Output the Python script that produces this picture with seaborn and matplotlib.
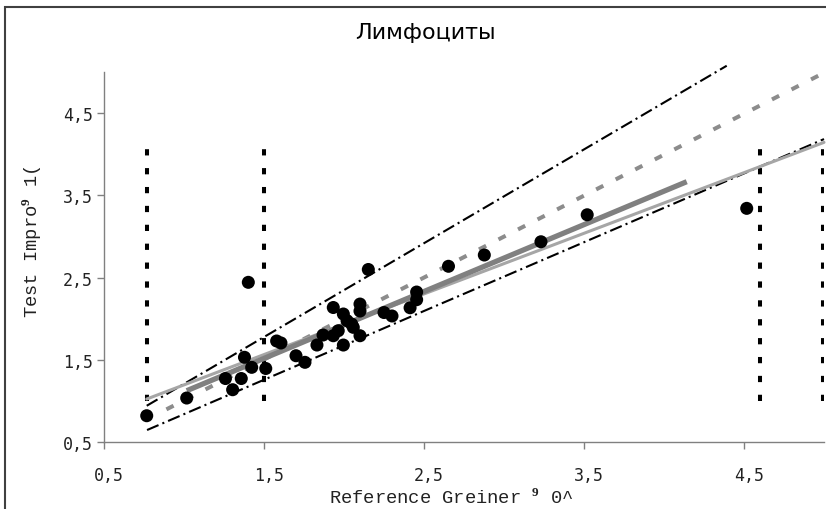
import matplotlib
matplotlib.use("Agg")
import matplotlib.pyplot as plt
import matplotlib.transforms as mtransforms
from matplotlib.patches import Rectangle
import seaborn as sns
import pandas as pd

# ---- data -------------------------------------------------------------
ref_x = [0.767, 1.017, 1.259, 1.304, 1.358, 1.378, 1.423, 1.511, 1.402, 1.579,
         1.606, 1.700, 1.756, 1.831, 1.869, 1.933, 1.933, 1.964, 1.996, 1.996,
         2.019, 2.048, 2.058, 2.100, 2.100, 2.100, 2.152, 2.250, 2.300, 2.413,
         2.454, 2.454, 2.653, 2.877, 3.231, 3.520, 4.517]
test_y = [0.823, 1.038, 1.275, 1.139, 1.275, 1.533, 1.411, 1.397, 2.444, 1.731,
          1.707, 1.552, 1.472, 1.682, 1.804, 2.138, 1.795, 1.856, 1.682, 2.059,
          1.978, 1.937, 1.897, 2.180, 2.095, 1.795, 2.600, 2.077, 2.035, 2.135,
          2.326, 2.233, 2.639, 2.776, 2.937, 3.265, 3.343]

upper_band_x = [0.767, 4.392]
upper_band_y = [0.944, 5.076]
lower_band_x = [0.769, 5.0]
lower_band_y = [0.649, 4.185]
identity_x = [0.89, 5.0]
identity_y = [0.90, 4.99]
fit_thick_x = [1.017, 4.142]
fit_thick_y = [1.127, 3.667]
fit_thin_x = [0.767, 5.0]
fit_thin_y = [1.026, 4.145]

limit_x = [0.77, 1.50, 4.60, 4.995]
limit_y = [1.0, 4.15]

tick_values = [0.5, 1.5, 2.5, 3.5, 4.5]
tick_labels = ["0,5", "1,5", "2,5", "3,5", "4,5"]

title = "Лимфоциты"
xlabel = r"Reference Greiner $^{\mathbf{9}}$ 0^"
ylabel = r"Test Impro$^{\mathbf{9}}$ 1("

# ---- style ------------------------------------------------------------
sns.set_style("white")
plt.rcParams["font.family"] = ["DejaVu Sans"]
plt.rcParams["lines.scale_dashes"] = False
plt.rcParams["mathtext.fontset"] = "custom"
plt.rcParams["mathtext.rm"] = "Liberation Mono"
plt.rcParams["mathtext.bf"] = "Liberation Serif:bold"

W, H = 826, 510
fig = plt.figure(figsize=(W / 100, H / 100), dpi=100)
ax_left, ax_right, ax_bottom, ax_top = 104, 824, 443.3, 73.0
ax = fig.add_axes([ax_left / W, 1 - ax_bottom / H,
                   (ax_right - ax_left) / W, (ax_bottom - ax_top) / H])

# vertical limit lines
for xv in limit_x:
    sns.lineplot(x=[xv, xv], y=limit_y, estimator=None, sort=False, ax=ax,
                 color="black", lw=2.9, linestyle=(0, (4.5, 9.1)),
                 solid_capstyle="butt", dash_capstyle="butt")

# band lines (dash-dot)
dashdot = (0, (9, 3, 1.5, 3))
sns.lineplot(x=upper_band_x, y=upper_band_y, estimator=None, ax=ax, color="black",
             lw=1.5, linestyle=dashdot, dash_capstyle="butt", clip_on=False)
sns.lineplot(x=lower_band_x, y=lower_band_y, estimator=None, ax=ax, color="black",
             lw=1.5, linestyle=dashdot, dash_capstyle="butt", clip_on=False)
# identity line
sns.lineplot(x=identity_x, y=identity_y, estimator=None, ax=ax, color="#8c8c8c",
             lw=2.9, linestyle=(0, (5.8, 10)), dash_capstyle="butt", clip_on=False)
# regression lines
sns.lineplot(x=fit_thin_x, y=fit_thin_y, estimator=None, ax=ax, color="#a6a6a6",
             lw=2.2, clip_on=False)
sns.lineplot(x=fit_thick_x, y=fit_thick_y, estimator=None, ax=ax, color="#808080",
             lw=3.8, solid_capstyle="butt")

# points
df = pd.DataFrame({"x": ref_x, "y": test_y})
sns.scatterplot(data=df, x="x", y="y", ax=ax, color="black", s=88,
                edgecolor="none", zorder=5, clip_on=False)

ax.set_xlim(0.5, 5.0)
ax.set_ylim(0.5, 5.0)
ax.set_xticks(tick_values)
ax.set_yticks(tick_values)
ax.set_xticklabels(tick_labels, family="DejaVu Sans Mono", fontsize=12, color="#222222")
ax.set_yticklabels(tick_labels, family="DejaVu Sans Mono", fontsize=12, color="#222222")
ax.tick_params(axis="both", direction="out", length=5, width=1, color="#808080",
               bottom=True, left=True)
ax.tick_params(axis="x", pad=12)
ax.tick_params(axis="y", pad=3)
for lab in ax.get_xticklabels():
    lab.set_transform(lab.get_transform() + mtransforms.ScaledTranslation(5 / 100, 0, fig.dpi_scale_trans))
ax.set_xlabel("")
ax.set_ylabel("")
for s in ["top", "right"]:
    ax.spines[s].set_visible(False)
for s in ["left", "bottom"]:
    ax.spines[s].set_color("#808080")
    ax.spines[s].set_linewidth(1)
ax.grid(False)

fig.text(425 / W, 1 - 33 / H, title, ha="center", va="center", fontsize=16,
         family=["DejaVu Sans"], color="black")
fig.text(451 / W, 1 - 498 / H, xlabel, ha="center", va="center", fontsize=13.5,
         family=["Liberation Mono"], color="#222222")
fig.text(32 / W, 1 - 242 / H, ylabel, ha="center", va="center", fontsize=13.5,
         family=["Liberation Mono"], rotation=90, color="#222222")

fig.patches.append(Rectangle((5 / W, -0.2), 1.5, 0.2 + 1 - 8 / H, transform=fig.transFigure,
                             fill=False, edgecolor="#404040", lw=1.5))

fig.savefig("out.png", dpi=100)
